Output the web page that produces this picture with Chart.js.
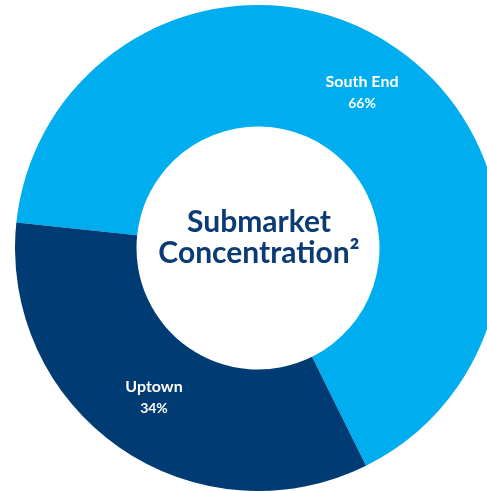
<!DOCTYPE html>
<html>
<head>
<meta charset="utf-8">
<script src="https://cdn.jsdelivr.net/npm/chart.js@4/dist/chart.umd.min.js"></script>
<style>
  html, body { margin: 0; padding: 0; background: #fff; overflow: hidden; width: 487px; height: 491px; }
  .wrap { position: absolute; left: 15px; top: 5px; width: 486px; height: 486px; }
</style>
</head>
<body>
<div class="wrap"><canvas id="myChart" width="486" height="486"></canvas></div>
<script>
// submarket split
const areas = ["South End", "Uptown"];
const shares = [66, 34];
const sliceColors = ["#00AEEF", "#003B73"];
const centerLines = ["Submarket", "Concentration\u00B2"];

// white labels inside each slice + title in the hole
const donutText = {
  id: "donutText",
  afterDraw(chart, args, opts) {
    const ctx = chart.ctx;
    const arcs = chart.getDatasetMeta(0).data;
    ctx.save();
    ctx.textAlign = "center";
    ctx.textBaseline = "alphabetic";
    arcs.forEach((arc, i) => {
      const mid = (arc.startAngle + arc.endAngle) / 2;
      const r = (arc.innerRadius + arc.outerRadius) / 2;
      const x = arc.x + Math.cos(mid) * r;
      const y = arc.y + Math.sin(mid) * r + (opts.nudgeY[i] || 0);
      ctx.fillStyle = "#fff";
      ctx.font = "bold 16px Lato";
      ctx.fillText(areas[i], x, y - 6);
      ctx.font = "bold 14px Lato";
      ctx.fillText(shares[i] + "%", x, y + 15);
    });
    const cx = arcs[0].x, cy = arcs[0].y;
    ctx.fillStyle = "#0B3B74";
    ctx.font = "bold 30px Lato";
    ctx.fillText(centerLines[0], cx + 1, cy - 16);
    ctx.fillText(centerLines[1], cx + 1, cy + 15);
    ctx.restore();
  }
};

new Chart("myChart", {
  type: "doughnut",
  data: {
    labels: areas,
    datasets: [{
      data: shares,
      backgroundColor: sliceColors,
      borderWidth: 0,
      hoverOffset: 0
    }]
  },
  options: {
    responsive: false,
    animation: false,
    cutout: "50%",
    rotation: 276,
    layout: { padding: 0 },
    plugins: {
      legend: { display: false },
      tooltip: { enabled: false },
      donutText: { nudgeY: [-5, 0] }
    }
  },
  plugins: [donutText]
});
</script>
</body>
</html>
